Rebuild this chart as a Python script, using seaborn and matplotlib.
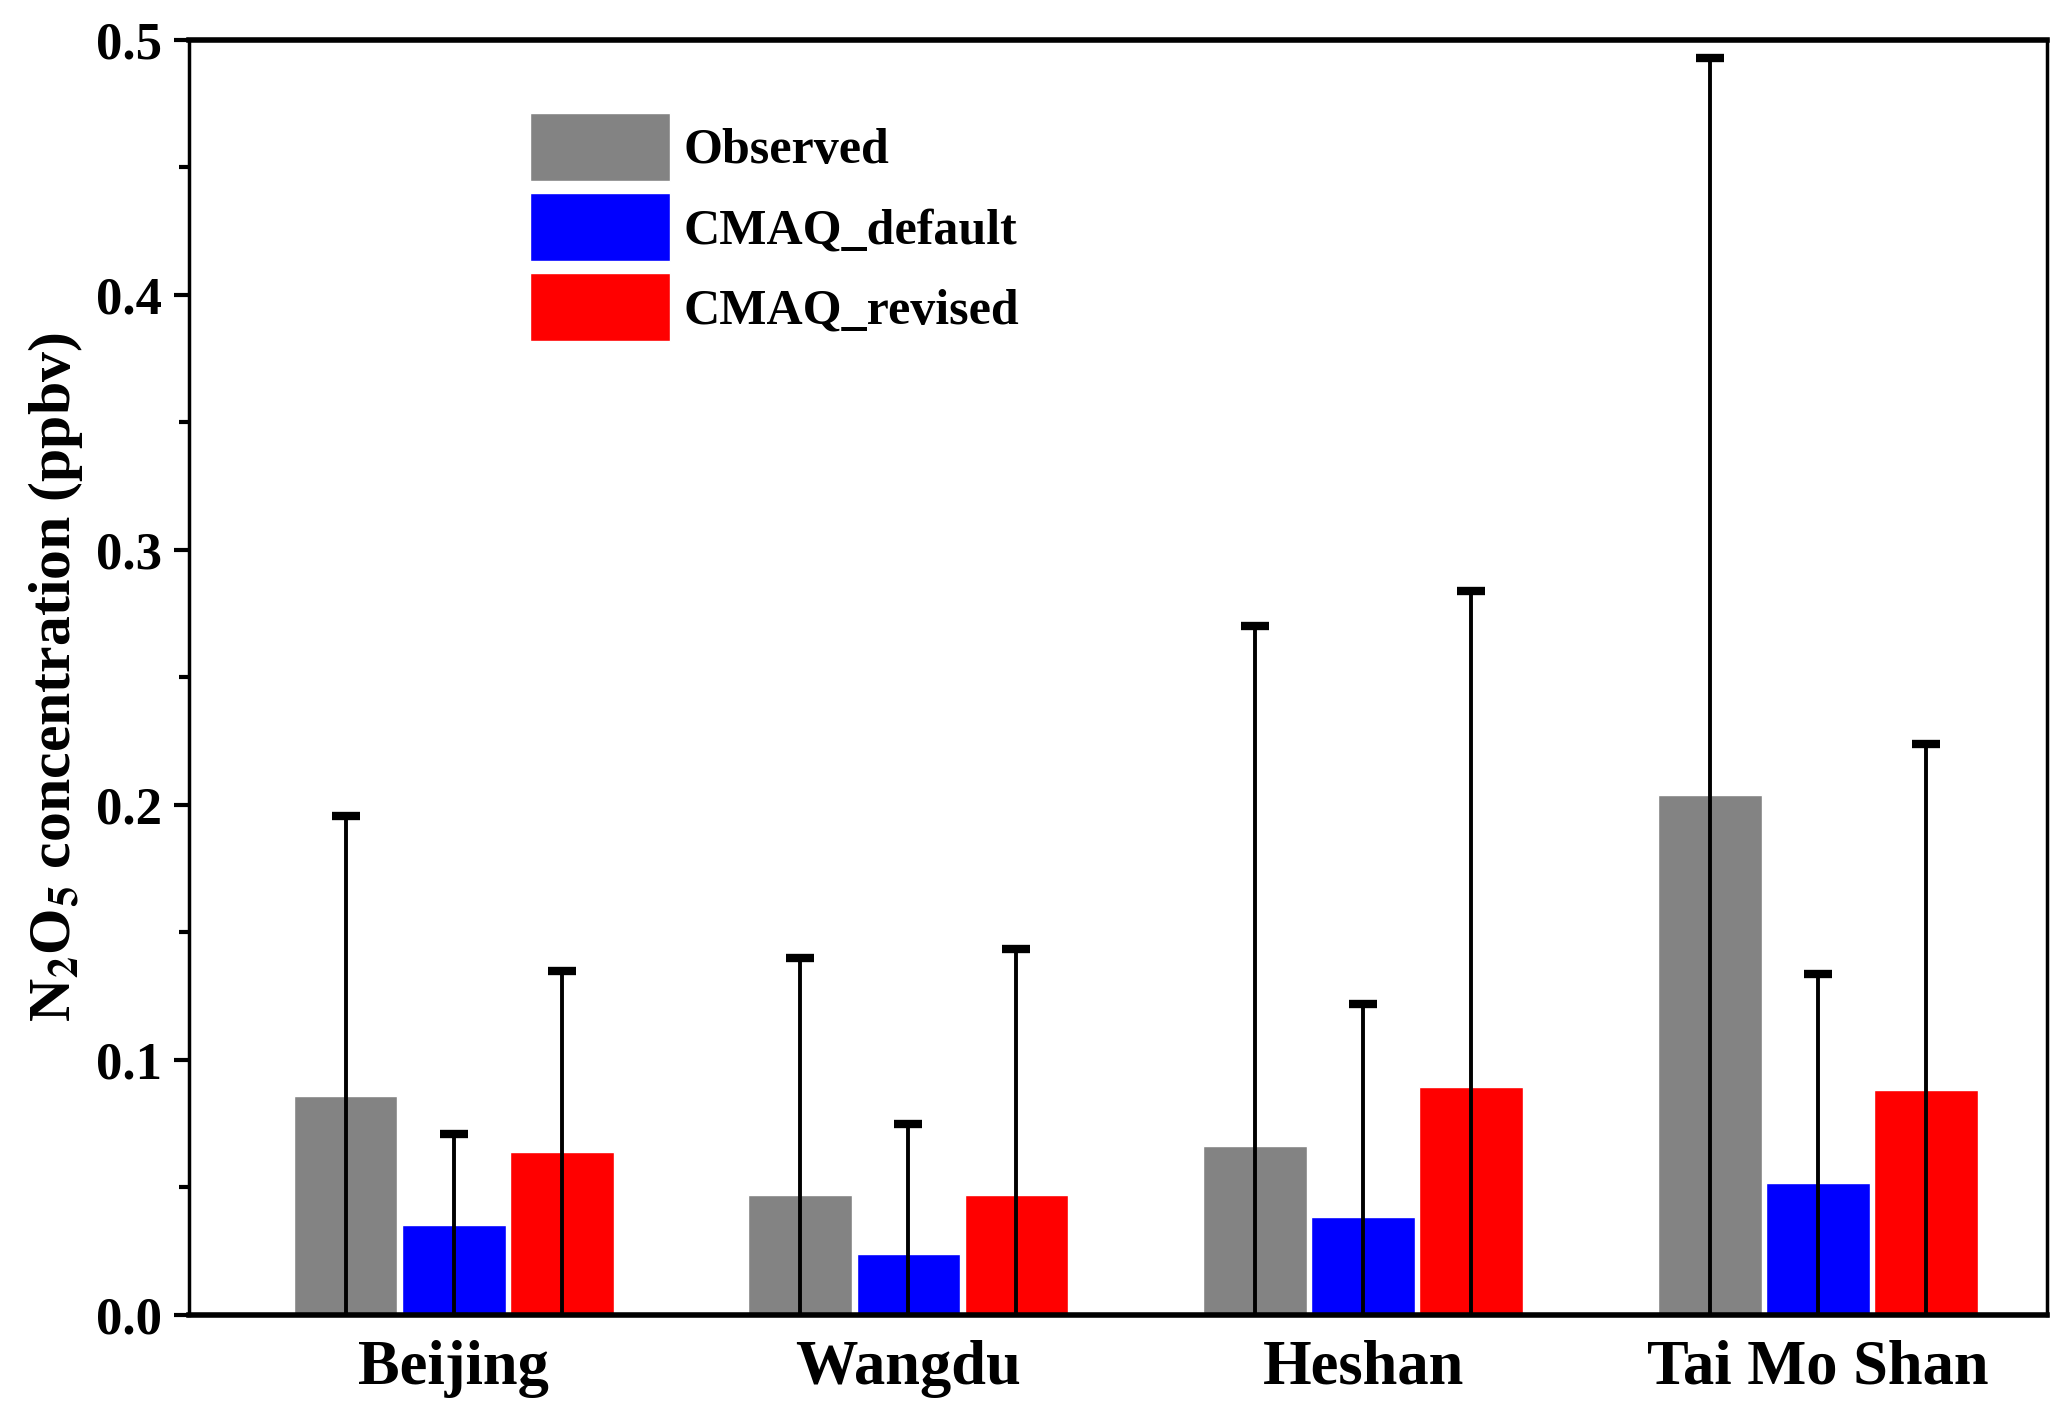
import numpy as np
import pandas as pd
import matplotlib
matplotlib.use("Agg")
import matplotlib.pyplot as plt
import seaborn as sns
from matplotlib.ticker import MultipleLocator

# data
sites = ["Beijing", "Wangdu", "Heshan", "Tai Mo Shan"]
series = ["Observed", "CMAQ_default", "CMAQ_revised"]
observed = [0.0857, 0.047, 0.0661, 0.204]
cmaq_default = [0.0351, 0.0238, 0.0382, 0.0517]
cmaq_revised = [0.064, 0.047, 0.0894, 0.0883]
observed_sd = [0.110, 0.093, 0.204, 0.289]
default_sd = [0.036, 0.051, 0.0837, 0.0821]
revised_sd = [0.071, 0.0966, 0.1946, 0.1354]
colors = ["#838383", "#0000ff", "#ff0000"]

df = pd.DataFrame({
    "site": sites * 3,
    "series": np.repeat(series, len(sites)),
    "value": observed + cmaq_default + cmaq_revised,
})
sds = [observed_sd, default_sd, revised_sd]

sns.set_style("ticks")
plt.rcParams["font.family"] = ["Liberation Serif", "DejaVu Serif"]
plt.rcParams["font.weight"] = "bold"
plt.rcParams["mathtext.fontset"] = "stix"
for k in ["text.color", "axes.labelcolor", "xtick.color", "ytick.color"]:
    plt.rcParams[k] = "black"

fig = plt.figure(figsize=(20.67, 14.23), dpi=100)
ax = fig.add_axes([0.0912, 0.076, 0.8992, 0.896])

sns.barplot(data=df, x="site", y="value", hue="series", order=sites,
            hue_order=series, palette=colors, width=0.713, gap=0.04,
            saturation=1, ax=ax, errorbar=None)

# error bars on bar centres
for cont, sd in zip(ax.containers, sds):
    xs = [p.get_x() + p.get_width() / 2 for p in cont.patches]
    ys = [p.get_height() for p in cont.patches]
    ax.errorbar(xs, ys, yerr=sd, fmt="none", ecolor="black",
                elinewidth=2.8, capsize=10, capthick=6, zorder=3)

ax.set_xlim(-0.583, 3.504)
ax.set_ylim(0, 0.5)
ax.yaxis.set_major_locator(MultipleLocator(0.1))
ax.yaxis.set_minor_locator(MultipleLocator(0.05))
ax.yaxis.set_major_formatter(matplotlib.ticker.FormatStrFormatter("%.1f"))

ax.tick_params(axis="y", which="major", direction="out", length=11, width=3,
               labelsize=38, pad=8)
ax.tick_params(axis="y", which="minor", direction="out", length=7, width=3)
ax.tick_params(axis="x", length=0, labelsize=45, pad=18)
for lab in ax.get_xticklabels() + ax.get_yticklabels():
    lab.set_fontweight("bold")

for side in ["left", "right"]:
    ax.spines[side].set_linewidth(2.5)
for side in ["top", "bottom"]:
    ax.spines[side].set_linewidth(4)
for s in ax.spines.values():
    s.set_visible(True)
    s.set_color("black")

ax.set_xlabel("")
ax.set_ylabel(r"N$_\mathbf{2}$O$_\mathbf{5}$ concentration (ppbv)",
              fontsize=43, fontweight="bold", labelpad=8)

leg = ax.legend(loc="upper left", bbox_to_anchor=(0.173, 0.958), frameon=False,
                fontsize=36, handlelength=2.8, handleheight=1.7,
                handletextpad=0.27, labelspacing=0.25, borderaxespad=0)
for t in leg.get_texts():
    t.set_fontweight("bold")

fig.savefig("out.png", dpi=100)
